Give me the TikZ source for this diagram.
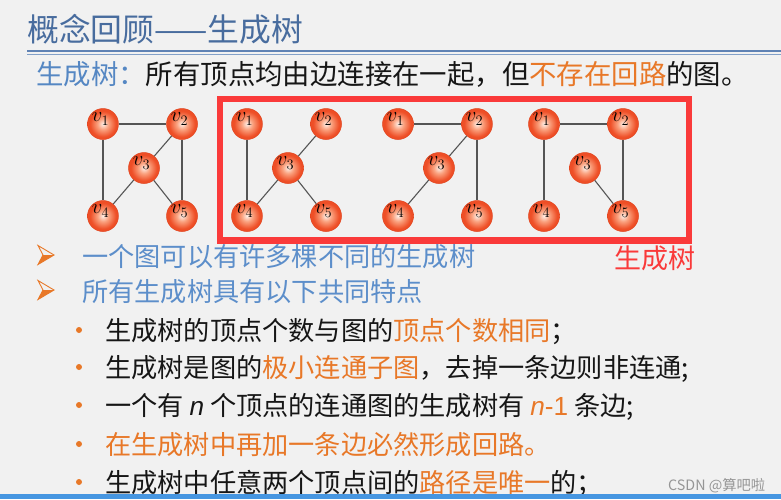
\documentclass[tikz,border=0pt]{standalone}
\usepackage{fontspec}
\setmainfont{Noto Sans CJK SC}
\newfontfamily\latinsans{Liberation Sans}
\definecolor{bgc}{RGB}{241,241,241}
\definecolor{titleblue}{RGB}{72,108,158}
\definecolor{lineblueA}{RGB}{95,130,180}
\definecolor{lineblueB}{RGB}{130,160,200}
\definecolor{defblue}{RGB}{85,135,195}
\definecolor{bulblue}{RGB}{92,142,202}
\definecolor{orng}{RGB}{232,120,40}
\definecolor{redbox}{RGB}{250,58,58}
\definecolor{txt}{RGB}{22,22,22}
\definecolor{edgec}{RGB}{85,85,85}
\definecolor{vc0}{RGB}{255,240,232}
\definecolor{vc1}{RGB}{250,160,125}
\definecolor{vc2}{RGB}{238,78,38}
\definecolor{vrim}{RGB}{225,68,30}
\definecolor{wm}{RGB}{150,150,150}
\definecolor{barc}{RGB}{70,150,225}
\pgfdeclareradialshading{vball}{\pgfpoint{0bp}{0bp}}{color(0bp)=(vc0); color(9bp)=(vc1); color(21bp)=(vc2); color(25bp)=(vc2); color(50bp)=(vc2)}
\begin{document}
\begin{tikzpicture}[x=1pt,y=-1pt,
  vert/.style={circle, minimum size=31pt, inner sep=0pt, draw=vrim, line width=0.5pt, shading=vball},
  vlab/.style={inner sep=0pt, xshift=-2.5pt, yshift=5pt, font=\fontsize{20}{20}\selectfont},
  gedge/.style={draw=edgec, line width=1.1pt},
  txtline/.style={anchor=base west, inner sep=0pt, font=\fontsize{26.2}{28}\selectfont, text=txt},
  dotbul/.style={circle, fill=orng, inner sep=0pt, minimum size=6pt}
]
\useasboundingbox (0,0) rectangle (781,499);
\fill[bgc] (0,0) rectangle (781,499);
% title
\node[anchor=base west, inner sep=0pt, font=\fontsize{31.8}{33}\selectfont, text=titleblue] (title) at (27,41) {概念回顾——生成树};
\draw[lineblueA, line width=1.5pt] (27,51) -- (781,51);
\draw[lineblueB, line width=1pt] (27,54.5) -- (781,54.5);
% definition
\node[txtline, font=\fontsize{27.4}{29}\selectfont] (def) at (36,84) {\textcolor{defblue}{生成树：}所有顶点均由边连接在一起，但\textcolor{orng}{不存在回路}的图。};
% graphs
\foreach \g/\x in {1/103,2/247,3/398,4/544}{
  \node[vert] (g\g v1) at (\x,124) {};
  \node[vert] (g\g v2) at (\x+79,124) {};
  \node[vert] (g\g v3) at (\x+41,168) {};
  \node[vert] (g\g v4) at (\x,216) {};
  \node[vert] (g\g v5) at (\x+79,216) {};
  \foreach \k in {1,...,5}{
    \node[vlab] at (g\g v\k) {$v_{\k}$};
  }
}
\foreach \a/\b in {1/2,1/4,2/3,2/5,3/4,3/5}{ \draw[gedge] (g1v\a) -- (g1v\b); }
\foreach \a/\b in {1/4,2/3,3/4,3/5}{ \draw[gedge] (g2v\a) -- (g2v\b); }
\foreach \a/\b in {1/2,2/3,2/5,3/4}{ \draw[gedge] (g3v\a) -- (g3v\b); }
\foreach \a/\b in {1/2,1/4,2/5,3/5}{ \draw[gedge] (g4v\a) -- (g4v\b); }
% red box
\draw[redbox, line width=6.5pt] (220,99) rectangle (689,240.5);
\node[anchor=base west, inner sep=0pt, font=\fontsize{27}{28}\selectfont, text=redbox] (stlab) at (614,268) {生成树};
% arrow bullets
\foreach \y in {255,290}{
  \draw[orng, line width=0.9pt, line join=miter] (38,\y-9.5) -- (54,\y) -- (38,\y+9.5) -- (43,\y) -- cycle;
  \fill[orng] (54,\y) -- (38,\y+9.5) -- (43,\y) -- cycle;
}
\node[txtline, text=bulblue] (b1) at (82,266) {一个图可以有许多棵不同的生成树};
\node[txtline, text=bulblue] (b2) at (82,301) {所有生成树具有以下共同特点};
% sub bullets
\foreach \y in {330,367,405,444,482}{ \node[dotbul] at (79,\y) {}; }
\node[txtline] (s1) at (105,340) {生成树的顶点个数与图的\textcolor{orng}{顶点个数相同}；};
\node[txtline] (s2) at (105,377) {生成树是图的\textcolor{orng}{极小连通子图}，去掉一条边则非连通;};
\node[txtline] (s3) at (105,415) {一个有 {\latinsans\itshape n} 个顶点的连通图的生成树有 \textcolor{orng}{{\latinsans\itshape n}{\latinsans -1}} 条边;};
\node[txtline, text=orng] (s4) at (105,454) {在生成树中再加一条边必然形成回路。};
\node[txtline] (s5) at (105,492) {生成树中任意两个顶点间的\textcolor{orng}{路径是唯一}的；};
% watermark and bar
\node[anchor=base west, inner sep=0pt, font=\fontsize{14.3}{14}\selectfont, text=wm] (wmk) at (668,490) {CSDN @算吧啦};
\fill[barc] (0,494) rectangle (781,499);
\end{tikzpicture}
\end{document}
